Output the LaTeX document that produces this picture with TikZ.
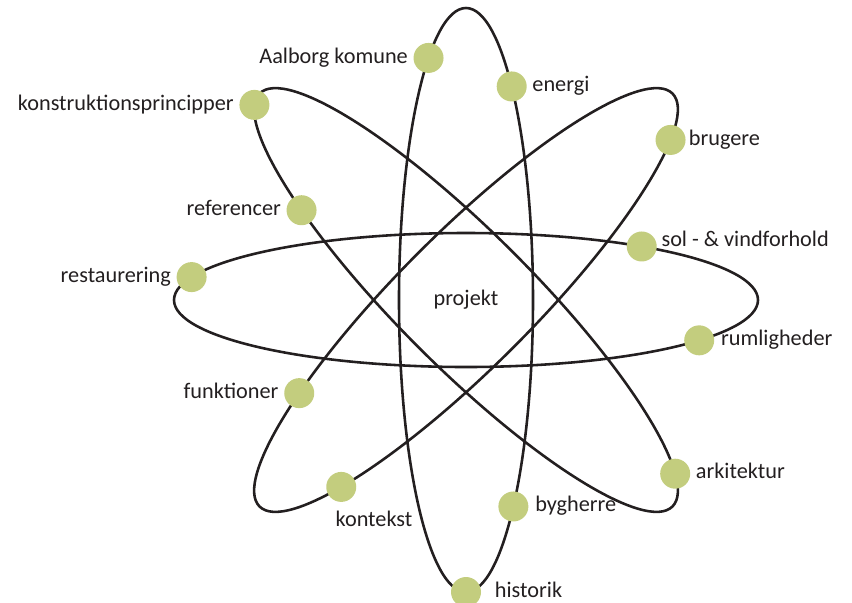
\documentclass[tikz,border=0pt]{standalone}
\usepackage{fontspec}
\setmainfont{Carlito}
\definecolor{planetgroen}{RGB}{195,205,126}
\definecolor{streg}{RGB}{35,31,32}
\def\storakse{292}
\def\lilleakse{67}
% rotation / parameter / navn / vinkel / anker / afstand / tekst
\def\planeter{0/160/restaurering/180/east/0pt/restaurering,
  0/53/sol/20/west/0pt/sol - \& vindforhold,
  0/-37/rumligheder/0/west/1pt/rumligheder,
  90/34/aalborg/180/east/0pt/Aalborg komune,
  90/-43/energi/0/west/0pt/energi,
  90/-135/bygherre/0/west/1pt/bygherre,
  90/180/historik/-2/west/7pt/historik,
  45/-28/brugere/0/west/-2pt/brugere,
  45/129/funktioner/180/east/0pt/funktioner,
  45/-139/kontekst/-120/north west/6pt/kontekst,
  -45/-170/konstruktion/180/east/0pt/konstruktionsprincipper,
  -45/-128/referencer/180/east/0pt/referencer,
  -45/22/arkitektur/0/west/0pt/arkitektur}
\tikzset{
  bane/.style={draw=streg, line width=2.2pt},
  planet/.style={circle, fill=planetgroen, inner sep=0pt, minimum size=0.9cm},
  navn/.style={text=streg, font=\fontsize{19}{23}\selectfont, inner sep=4.5pt,
    text height=13pt, text depth=4.2pt},
}

\begin{document}
\begin{tikzpicture}[x=0.03cm, y=0.03cm]
  \useasboundingbox (-466,-302) rectangle (386,300);

  % ---------------- baner ----------------
  \foreach \rot in {0,45,90,-45}
    \draw[bane, rotate=\rot] (0,0) ellipse [x radius=\storakse, y radius=\lilleakse];

  % ---------------- planeter ----------------
  \foreach \rot/\t/\id/\vinkel/\anker/\afst/\tekst in \planeter {
    \node[planet, label={[navn, anchor=\anker, shift={(\vinkel:\afst)}]\vinkel:\tekst}] (\id)
      at ({\storakse*cos(\t)*cos(\rot)-\lilleakse*sin(\t)*sin(\rot)},
          {\storakse*cos(\t)*sin(\rot)+\lilleakse*sin(\t)*cos(\rot)}) {};
  }

  \node[navn] (projekt) at (0,0) {projekt};
\end{tikzpicture}
\end{document}
